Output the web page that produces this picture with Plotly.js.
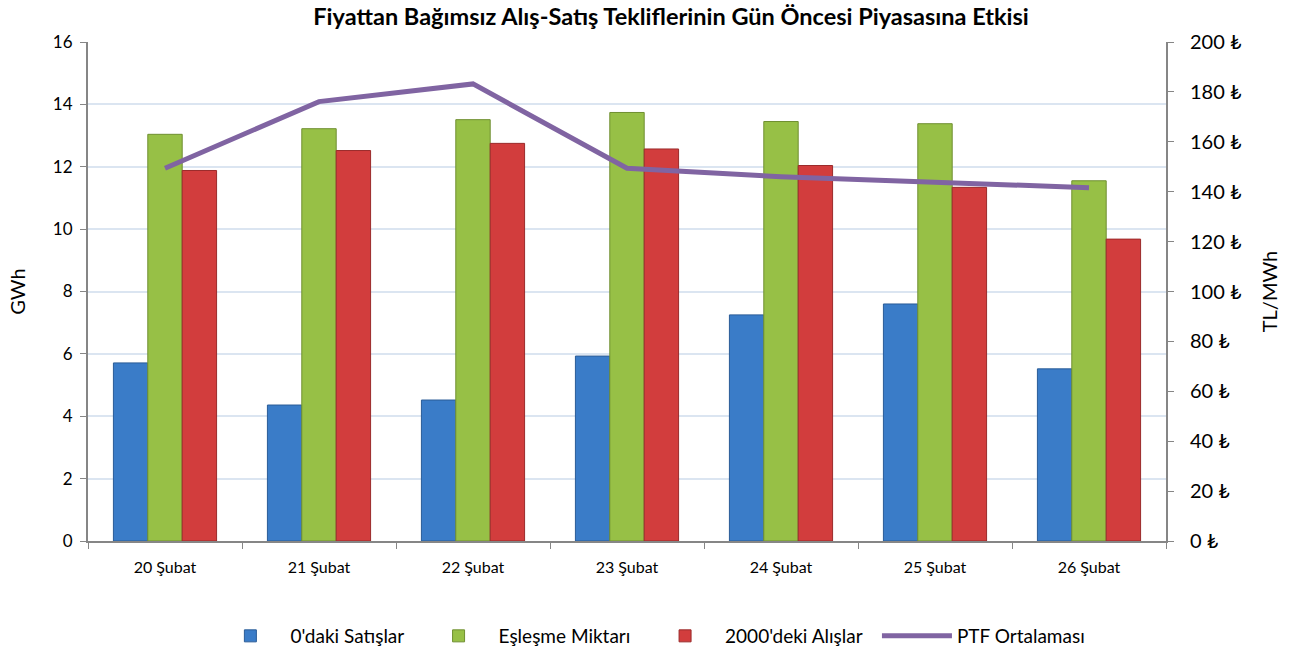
<!DOCTYPE html>
<html>
<head>
<meta charset="utf-8">
<script src="https://cdn.plot.ly/plotly-3.0.1.min.js"></script>
<style>
  body { margin: 0; background: #ffffff; }
  #chart { width: 1293px; height: 655px; }
</style>
</head>
<body>
<div id="chart"></div>
<script>
// günler ve seriler
var gunler = ["20 Şubat", "21 Şubat", "22 Şubat", "23 Şubat", "24 Şubat", "25 Şubat", "26 Şubat"];
var sifirSatislar = [5.71, 4.36, 4.52, 5.93, 7.25, 7.6, 5.52];
var eslesme = [13.04, 13.22, 13.51, 13.74, 13.45, 13.38, 11.55];
var alislar2000 = [11.88, 12.52, 12.75, 12.57, 12.04, 11.34, 9.68];
var ptf = [149.4, 176.1, 183.2, 149.4, 146, 143.8, 141.6];

var yazi = "Lato, 'DejaVu Sans', sans-serif";
// lejant arasi bosluk icin
var bosluk = "\u00a0".repeat(2);

var data = [
  {x: gunler, y: sifirSatislar, type: "bar", name: "0'daki Satışlar" + bosluk,
   marker: {color: "#3a7cc8", line: {color: "#2a5c97", width: 1}}},
  {x: gunler, y: eslesme, type: "bar", name: "Eşleşme Miktarı" + bosluk,
   marker: {color: "#97c046", line: {color: "#6f8f30", width: 1}}},
  {x: gunler, y: alislar2000, type: "bar", name: "2000'deki Alışlar" + bosluk,
   marker: {color: "#d23d3d", line: {color: "#9b2b2b", width: 1}}},
  {x: gunler, y: ptf, type: "scatter", mode: "lines", name: "PTF Ortalaması", yaxis: "y2",
   line: {color: "#8064a2", width: 5}}
];

var layout = {
  width: 1293, height: 655,
  margin: {l: 88, r: 127, t: 42, b: 114},
  paper_bgcolor: "#ffffff", plot_bgcolor: "#ffffff",
  font: {family: yazi, color: "#000000", size: 16},
  title: {text: "<b>Fiyattan Bağımsız Alış-Satış Tekliflerinin Gün Öncesi Piyasasına Etkisi</b>",
          x: 0.519, xanchor: "center", y: 0.975, yanchor: "middle", font: {size: 23.5, family: yazi}},
  barmode: "group", bargap: 0.33, bargroupgap: 0,
  showlegend: true,
  legend: {orientation: "h", x: 0.503, xanchor: "center", xref: "container",
           y: 0.029, yanchor: "middle", yref: "container", itemwidth: 70,
           font: {size: 19}, traceorder: "normal"},
  xaxis: {showline: true, linecolor: "#868686", linewidth: 2, ticks: "outside", tickson: "boundaries",
          ticklen: 6, tickcolor: "#868686", tickfont: {size: 16}, showgrid: false,
          ticklabelstandoff: 11},
  yaxis: {range: [0, 16], dtick: 2, showline: true, linecolor: "#868686", linewidth: 2,
          ticks: "outside", ticklen: 6, tickcolor: "#868686", gridcolor: "#dbe5f1", gridwidth: 2,
          zeroline: false, tickfont: {size: 17}, ticklabelstandoff: 4,
          title: {text: "GWh", font: {size: 20}, standoff: 22}},
  yaxis2: {range: [0, 200], dtick: 20, overlaying: "y", side: "right", showline: true,
           linecolor: "#868686", linewidth: 2, ticks: "outside", ticklen: 6, tickcolor: "#868686",
           showgrid: false, zeroline: false, ticksuffix: " ₺", tickfont: {size: 20},
           ticklabelstandoff: 12,
           title: {text: "TL/MWh", font: {size: 20}, standoff: 22}}
};

Plotly.newPlot("chart", data, layout, {displayModeBar: false});
</script>
</body>
</html>
